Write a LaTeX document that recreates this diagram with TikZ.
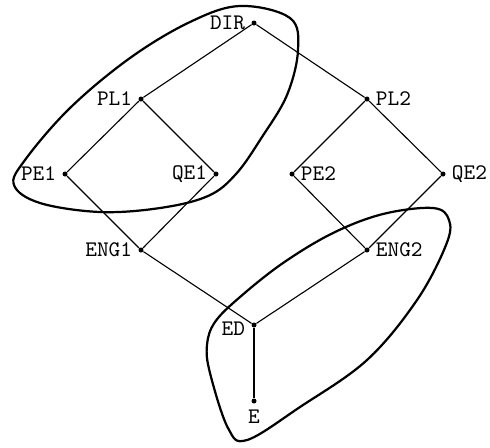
\documentclass[tikz,border=0pt]{standalone}
\begin{document}
\begin{tikzpicture}[x=0.45pt,y=-0.45pt,
  dot/.style={circle,fill=black,inner sep=0pt,minimum size=5pt*0.45},
  lbl/.style={font=\ttfamily,inner sep=1pt},
  every label/.style={lbl},
  label distance=1.5pt,
  edge/.style={line width=0.5pt},
  blob/.style={line width=1pt},
  thickedge/.style={line width=1.2pt}]
\useasboundingbox (0,0) rectangle (490,447);
\node[dot,label={[lbl]left:DIR}] (DIR) at (254,23) {};
\node[dot,label={[lbl]left:PL1}] (PL1) at (141,99) {};
\node[dot,label={[lbl]right:PL2}] (PL2) at (367,99) {};
\node[dot,label={[lbl]left:PE1}] (PE1) at (65,174) {};
\node[dot,label={[lbl]left:QE1}] (QE1) at (216,174) {};
\node[dot,label={[lbl]right:PE2}] (PE2) at (292,174) {};
\node[dot,label={[lbl]right:QE2}] (QE2) at (443,174) {};
\node[dot,label={[lbl]left:ENG1}] (ENG1) at (141,250) {};
\node[dot,label={[lbl]right:ENG2}] (ENG2) at (367,250) {};
\node[dot,label={[lbl,yshift=-1.5pt]left:ED}] (ED) at (254,325) {};
\node[dot,label={[lbl]below:E}] (E) at (254,401) {};
\draw[edge] (DIR) -- (PL1);
\draw[edge] (DIR) -- (PL2);
\draw[edge] (PL1) -- (PE1);
\draw[edge] (PL1) -- (QE1);
\draw[edge] (PL2) -- (PE2);
\draw[edge] (PL2) -- (QE2);
\draw[edge] (PE1) -- (ENG1);
\draw[edge] (QE1) -- (ENG1);
\draw[edge] (PE2) -- (ENG2);
\draw[edge] (QE2) -- (ENG2);
\draw[edge] (ENG1) -- (ED);
\draw[edge] (ENG2) -- (ED);
\draw[thickedge] (ED) -- (E);
\draw[blob] plot[smooth cycle,tension=0.6] coordinates {
  (240,6) (290,18) (298,50) (287,95) (262,137) (236,174) (208,196) (160,208)
  (100,212) (40,203) (14,185) (25,160) (70,108) (130,58) (190,22)};
\draw[blob] plot[smooth cycle,tension=0.6] coordinates {
  (433,208) (449,220) (446,245) (417,300) (367,360) (300,407) (247,440)
  (228,428) (210,373) (207,345) (215,322) (240,297) (283,263) (333,233) (383,214)};
\end{tikzpicture}
\end{document}
